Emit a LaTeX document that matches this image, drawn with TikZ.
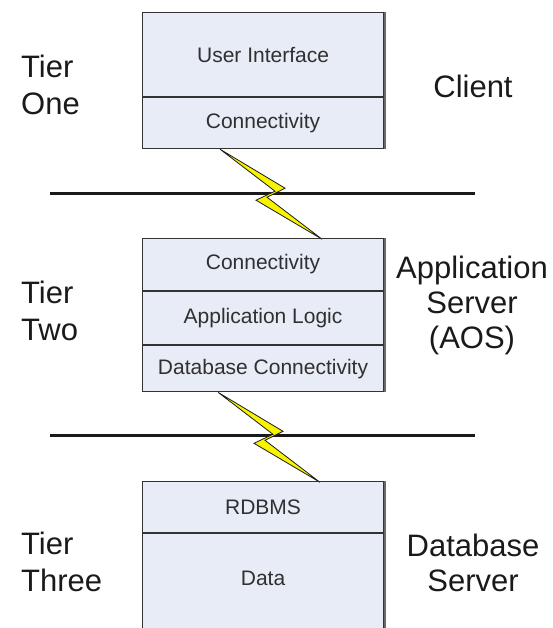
\documentclass[tikz,border=0pt]{standalone}
\usepackage{fontspec}
\setmainfont{Liberation Sans}
\definecolor{boxfill}{HTML}{E8ECF6}
\definecolor{boxline}{HTML}{333333}
\definecolor{boxtext}{HTML}{303030}
\definecolor{labeltext}{HTML}{1A1A1A}
\definecolor{sepline}{HTML}{1A1A1A}
\definecolor{boltyellow}{HTML}{F8F400}
\definecolor{boltline}{HTML}{1E1E1E}
\definecolor{shade}{HTML}{6A6A6A}
\begin{document}
\begin{tikzpicture}[x=1pt,y=-1pt,
  row/.style={draw=boxline, fill=boxfill, line width=1.1pt, minimum width=241pt,
    inner sep=0pt, anchor=north west, font=\fontsize{21}{25}\selectfont, text=boxtext},
  tier/.style={align=left, anchor=west, inner sep=0pt,
    font=\fontsize{31}{37}\selectfont, text=labeltext},
  role/.style={align=center, inner sep=0pt,
    font=\fontsize{31}{35}\selectfont, text=labeltext},
  sepl/.style={line width=2.4pt, draw=sepline},
  edge shade/.style={draw=shade, line width=1.2pt},
  bolt/.pic={
    \filldraw[fill=boltyellow, draw=boltline, line width=0.8pt, line join=miter]
      (0,0) -- (65,39) -- (47,48) -- (102,90) -- (36,51) -- (55,42) -- cycle;
  }
]
\useasboundingbox (0,0) rectangle (553,628);
\clip (0,0) rectangle (553,628);

% separators
\coordinate (s1a) at (50,193.5);
\coordinate (s1b) at (475,193.5);
\coordinate (s2a) at (50,435.5);
\coordinate (s2b) at (475,435.5);
\draw[sepl] (s1a) -- (s1b);
\draw[sepl] (s2a) -- (s2b);

% tier one
\node[row, minimum height=84pt] (ui) at (142,12) {User Interface};
\node[row, minimum height=51pt] (c1) at (ui.south west) {Connectivity};

% tier two
\node[row, minimum height=52pt] (c2) at (142,238) {Connectivity};
\node[row, minimum height=53pt] (al) at (c2.south west) {Application Logic};
\node[row, minimum height=46pt] (dbc) at (al.south west) {Database Connectivity};

% tier three
\node[row, minimum height=51pt] (rdb) at (142,481) {RDBMS};
\node[row, minimum height=116pt, text height=15pt, text depth=27pt] (data) at (rdb.south west) {Data};

% right-edge shading (thicker right border)
\draw[edge shade] ([xshift=0.8pt]ui.north east) -- ([xshift=0.8pt]c1.south east);
\draw[edge shade] ([xshift=0.8pt]c2.north east) -- ([xshift=0.8pt]dbc.south east);
\draw[edge shade] ([xshift=0.8pt]rdb.north east) -- ([xshift=0.8pt]data.south east);

% bolts
\pic at ([xshift=78pt]c1.south west) {bolt};
\pic at ([xshift=76pt]dbc.south west) {bolt};

% labels
\node[tier] (t1) at (21,85) {Tier\\One};
\node[tier] (t2) at (21,311) {Tier\\Two};
\node[tier] (t3) at (21,562) {Tier\\Three};
\node[role] (r1) at (473,86) {Client};
\node[role] (r2) at (472,305) {Application\\Server\\(AOS)};
\node[role] (r3) at (473,563) {Database\\Server};
\end{tikzpicture}
\end{document}
